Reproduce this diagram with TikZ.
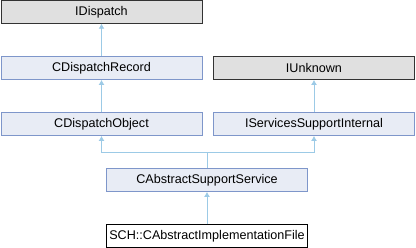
\documentclass[tikz,border=0pt]{standalone}
\usepackage{fontspec}
\setmainfont{Liberation Sans}
\usetikzlibrary{arrows.meta}
\definecolor{grayfill}{HTML}{E0E0E0}
\definecolor{bluefill}{HTML}{E8ECF5}
\definecolor{blueborder}{HTML}{7E96CA}
\definecolor{edgecol}{HTML}{9CCAE6}
\tikzset{
  cls/.style={minimum width=201pt, minimum height=23pt, inner sep=0pt, font=\fontsize{12.6}{14}\selectfont, line width=0.9pt},
  extcls/.style={cls, fill=grayfill, draw=black!80},
  bluecls/.style={cls, fill=bluefill, draw=blueborder},
  curcls/.style={cls, fill=white, draw=black},
  inh/.style={draw=edgecol, line width=0.9pt, -{Latex[length=5pt,width=6pt]}},
}
\begin{document}
\begin{tikzpicture}[x=1pt,y=-1pt]
\useasboundingbox (0,0) rectangle (416,248);
\node[extcls] (idisp) at (101.5,11.8) {IDispatch};
\node[bluecls] (crec) at (101.5,68) {CDispatchRecord};
\node[extcls] (iunk) at (314,68) {IUnknown};
\node[bluecls] (cobj) at (101.5,124) {CDispatchObject};
\node[bluecls] (iserv) at (314,124) {IServicesSupportInternal};
\node[bluecls] (cass) at (207,180) {CAbstractSupportService};
\node[curcls] (sch) at (207,236) {SCH::CAbstractImplementationFile};
\coordinate (j) at (207,152.5);
\draw[inh] (crec.north) -- (idisp.south);
\draw[inh] (cobj.north) -- (crec.south);
\draw[inh] (iserv.north) -- (iunk.south);
\draw[inh] (sch.north) -- (cass.south);
\draw[inh] (cass.north) -- (j) -| (cobj.south);
\draw[inh] (j) -| (iserv.south);
\end{tikzpicture}
\end{document}
